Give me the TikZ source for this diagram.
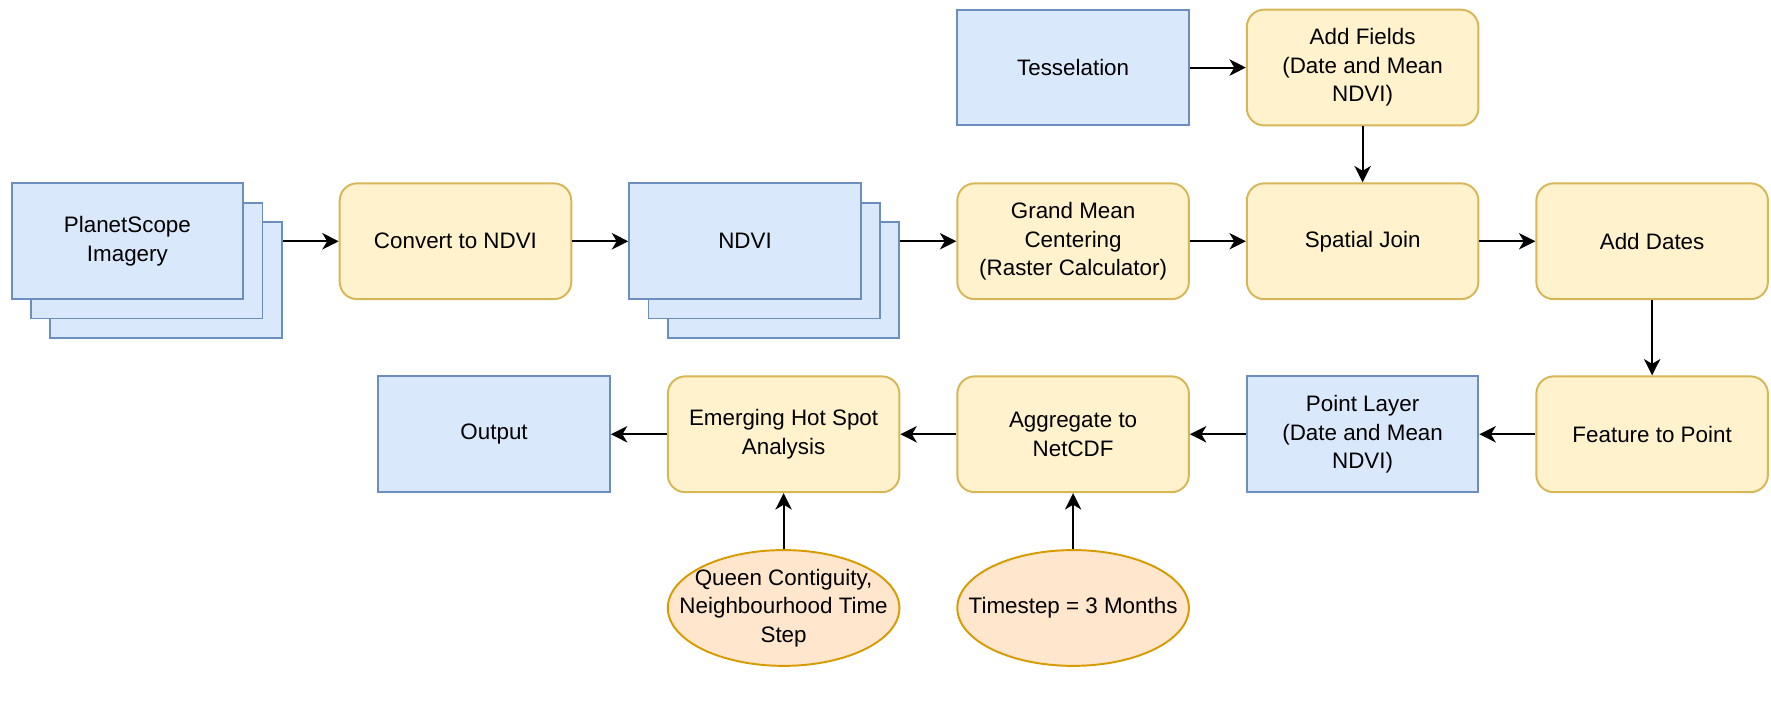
\documentclass[tikz,border=0pt]{standalone}
\usepackage{fontspec}
\setmainfont{Liberation Sans}
\usetikzlibrary{shapes.geometric,arrows.meta}
\definecolor{datafill}{HTML}{DAE8FC}
\definecolor{datadraw}{HTML}{6C8EBF}
\definecolor{procfill}{HTML}{FFF2CC}
\definecolor{procdraw}{HTML}{D6B656}
\definecolor{paramfill}{HTML}{FFE6CC}
\definecolor{paramdraw}{HTML}{D79B00}
\begin{document}
\begin{tikzpicture}[x=1pt,y=-1pt,
    font=\fontsize{11.6}{14.8}\selectfont,
    data/.style={draw=datadraw,fill=datafill,line width=1pt,minimum width=120pt,
      minimum height=60pt,inner sep=0pt,align=center},
    proc/.style={data,draw=procdraw,fill=procfill,rounded corners=9pt},
    param/.style={ellipse,draw=paramdraw,fill=paramfill,line width=1pt,
      minimum width=120pt,minimum height=60pt,inner sep=0pt},
    flow/.style={-{Stealth[length=8.5pt,width=8.5pt,inset=2.5pt]},line width=1pt}]
  \useasboundingbox (0,0) rectangle (917.6,364.8);
  \draw
    (556,35) node[data] (tess){Tesselation}
    (706,35) node[proc] (fields){Add Fields\\(Date and Mean\\NDVI)}
    (86,145) node[data] (planet3){}
    (76,135) node[data] (planet2){}
    (66,125) node[data] (planet1){PlanetScope\\Imagery}
    (236,125) node[proc] (convert){Convert to NDVI}
    (406,145) node[data] (ndvi3){}
    (396,135) node[data] (ndvi2){}
    (386,125) node[data] (ndvi1){NDVI}
    (556,125) node[proc] (grand){Grand Mean\\Centering\\(Raster Calculator)}
    (706,125) node[proc] (join){Spatial Join}
    (856,125) node[proc] (dates){Add Dates}
    (256,225) node[data] (output){Output}
    (406,225) node[proc] (hotspot){Emerging Hot Spot\\Analysis}
    (556,225) node[proc] (netcdf){Aggregate to\\NetCDF}
    (706,225) node[data] (points){Point Layer\\(Date and Mean\\NDVI)}
    (856,225) node[proc] (topoint){Feature to Point}
    (406,315) node[param] (queen){}
    (556,315) node[param] (timestep){};
  \node[align=center] (queentext) at (queen) {Queen Contiguity,\\Neighbourhood Time\\Step};
  \node (timesteptext) at (timestep) {Timestep = 3 Months};
  \begin{scope}[flow]
    \draw (planet3.east |- convert.west) to (convert.west);
    \draw (convert) to (ndvi1);
    \draw (ndvi3.east |- grand.west) to (grand.west);
    \draw (grand) to (join);
    \draw (join) to (dates);
    \draw (tess) to (fields);
    \draw (fields) to (join);
    \draw (dates) to (topoint);
    \draw (topoint) to (points);
    \draw (points) to (netcdf);
    \draw (netcdf) to (hotspot);
    \draw (hotspot) to (output);
    \draw (queen) to (hotspot);
    \draw (timestep) to (netcdf);
  \end{scope}
\end{tikzpicture}
\end{document}
